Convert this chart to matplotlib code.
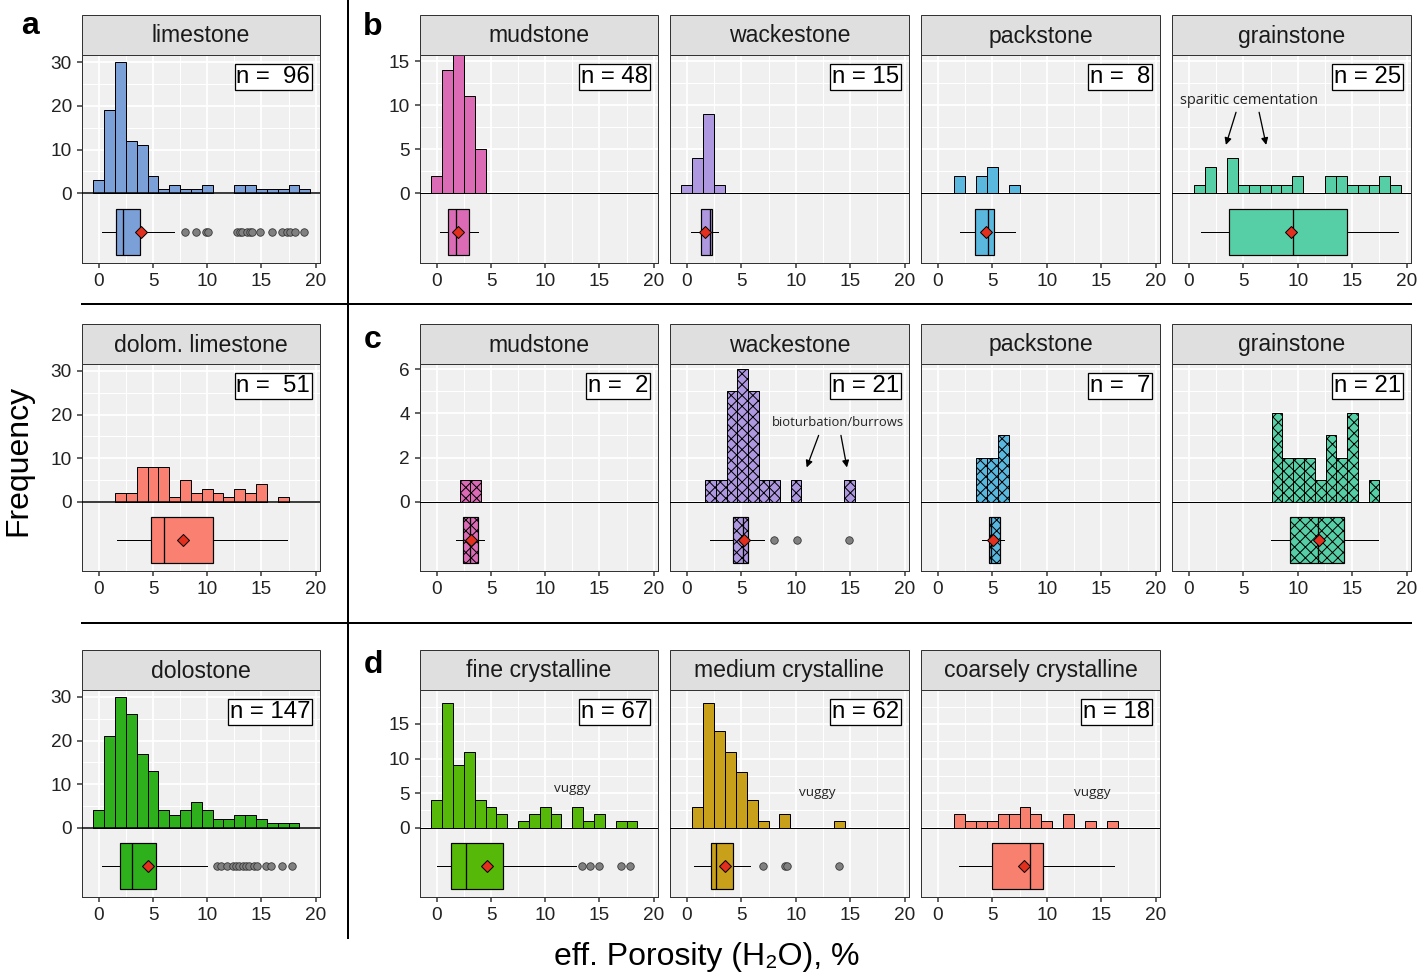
import matplotlib
matplotlib.use("Agg")
import matplotlib.pyplot as plt
from matplotlib.patches import Rectangle
from matplotlib.lines import Line2D

W, H, DPI = 1419, 978, 130


def pt(px):
    # pixel size -> points at this dpi
    return px * 72.0 / DPI


plt.rcParams['font.family'] = ['Liberation Sans', 'DejaVu Sans']
plt.rcParams['hatch.linewidth'] = pt(1.0)

# === data (counts per bin, bin start, bin width, box stats) ===
# box = [whisker low, q1, median, q3, whisker high]
lime_counts = [3, 19, 30, 12, 11, 4, 1, 2, 1, 1, 2, 0, 0, 2, 2, 1, 1, 1, 2, 1]
lime_box = [0.25, 1.56, 2.24, 3.77, 6.93]
lime_mean = 3.93
lime_out = [7.98, 8.96, 9.91, 10.06, 12.73, 12.98, 13.19, 13.65, 13.9, 14.11,
            14.91, 15.95, 16.93, 17.33, 17.64, 18.1, 18.93]

dlime_counts = [0, 0, 2, 2, 8, 8, 8, 1, 5, 2, 3, 2, 1, 3, 2, 4, 0, 1]
dlime_box = [1.72, 4.8, 6.0, 10.52, 17.38]
dlime_mean = 7.78

dolo_counts = [4, 21, 30, 26, 17, 13, 4, 3, 4, 6, 4, 2, 2, 3, 3, 2, 1, 1, 1]
dolo_box = [0.25, 1.94, 3.05, 5.26, 10.0]
dolo_mean = 4.58
dolo_out = [10.9, 11.3, 11.85, 12.4, 12.65, 12.92, 13.3, 13.6, 13.85, 14.3,
            14.6, 15.45, 15.85, 16.9, 17.85]

# b: limestone textures
b_mud_counts = [2, 14, 16, 11, 5]
b_mud_box = [0.34, 1.07, 1.81, 3.0, 3.83]
b_mud_mean = 2.0
b_wack_counts = [1, 4, 9, 1]
b_wack_box = [0.34, 1.26, 2.09, 2.3, 2.82]
b_wack_mean = 1.66
b_pack_counts = [0, 0, 2, 0, 2, 3, 0, 1]
b_pack_box = [2.02, 3.4, 4.57, 5.15, 7.09]
b_pack_mean = 4.42
b_grain_counts = [0, 1, 3, 0, 4, 1, 1, 1, 1, 1, 2, 0, 0, 2, 2, 1, 1, 1, 2, 1]
b_grain_box = [1.1, 3.71, 9.6, 14.48, 19.17]
b_grain_mean = 9.36

# c: dolomitic limestone textures
c_mud_counts = [1, 1]
c_mud_bins = (2.13, 0.97)
c_mud_box = [1.73, 2.41, 3.06, 3.8, 4.38]
c_mud_mean = 3.12
c_wack_counts = [1, 1, 5, 6, 5, 1, 1, 0, 1, 0, 0, 0, 0, 1]
c_wack_bins = (1.7, 0.98)
c_wack_box = [2.09, 4.22, 5.14, 5.63, 7.1]
c_wack_mean = 5.26
c_wack_out = [8.0, 10.09, 14.92]
c_pack_counts = [2, 2, 3]
c_pack_bins = (3.5, 1.0)
c_pack_box = [4.03, 4.71, 4.89, 5.72, 6.03]
c_pack_mean = 5.1
c_grain_counts = [4, 2, 2, 2, 1, 3, 2, 4, 0, 1]
c_grain_bins = (7.6, 0.99)
c_grain_box = [7.57, 9.32, 11.85, 14.22, 17.38]
c_grain_mean = 11.94

# d: dolostone crystal sizes
d_fine_counts = [4, 18, 9, 11, 4, 3, 2, 0, 1, 2, 3, 2, 0, 3, 1, 2, 0, 1, 1]
d_fine_box = [0.03, 1.27, 2.65, 6.08, 12.84]
d_fine_mean = 4.63
d_fine_out = [13.4, 14.14, 14.94, 17.0, 17.84]
d_med_counts = [0, 3, 18, 14, 11, 8, 4, 1, 0, 2, 0, 0, 0, 0, 1]
d_med_box = [0.7, 2.2, 2.7, 4.2, 5.8]
d_med_mean = 3.5
d_med_out = [7.0, 9.0, 9.2, 14.0]
d_coarse_counts = [0, 0, 2, 1, 1, 1, 2, 2, 3, 2, 1, 0, 2, 0, 1, 0, 1]
d_coarse_box = [1.9, 5.0, 8.5, 9.7, 16.2]
d_coarse_mean = 7.9

C_LIME = '#7B9FD7'
C_DLIME = '#FA8072'
C_DOLO = '#2DB01C'
C_MUD = '#DA6BB4'
C_WACK = '#AE98E0'
C_PACK = '#5AB7DE'
C_GRAIN = '#56CEA6'
C_FINE = '#56B808'
C_MED = '#C9A01A'
C_COARSE = '#F8806F'

HATCH = 'xxxx'

fig = plt.figure(figsize=(W / DPI, H / DPI), dpi=DPI)

LEFT = (82, 320)
COLS = [(420, 658), (670, 909), (921, 1160), (1172, 1411)]
ROWS = [(55, 263), (364, 571), (690, 897)]


def panel(xr, yr, title, nlab, counts, color, T, yt, ym, box, mean,
          out=(), bins=(-0.5, 1.0), hatch=None, showy=False, zlw=1.0):
    l, r = xr
    t, b = yr
    ax = fig.add_axes([l / W, 1 - b / H, (r - l) / W, (b - t) / H])
    ax.set_facecolor('#F0F0F0')
    ax.set_xlim(-1.55, 20.4)
    ax.set_ylim(-0.503 * T, T)
    ax.set_xticks([0, 5, 10, 15, 20])
    ax.set_xticks([2.5, 7.5, 12.5, 17.5], minor=True)
    ax.set_yticks(yt)
    ax.set_yticks(ym, minor=True)
    ax.grid(which='major', color='white', lw=pt(1.8))
    ax.grid(which='minor', color='white', lw=pt(1.0))
    ax.set_axisbelow(True)
    ax.tick_params(which='minor', length=0)
    ax.tick_params(which='major', length=pt(5), width=pt(1.5), color='#333333',
                   labelsize=pt(19), labelcolor='#222222', pad=pt(5))
    if not showy:
        ax.tick_params(axis='y', left=False, labelleft=False)
    for s in ax.spines.values():
        s.set_color('#333333')
        s.set_linewidth(pt(1))

    start, width = bins
    for i, c in enumerate(counts):
        if c > 0:
            ax.bar(start + i * width, c, width=width, align='edge', color=color,
                   edgecolor='black', lw=pt(1), hatch=hatch, zorder=3)
    ax.axhline(0, color='black', lw=pt(zlw), zorder=4)

    st = dict(whislo=box[0], q1=box[1], med=box[2], q3=box[3], whishi=box[4],
              mean=mean, fliers=list(out))
    ax.bxp([st], positions=[-0.279 * T], widths=[0.332 * T],
           orientation='horizontal', patch_artist=True, showmeans=True,
           showcaps=False, manage_ticks=False,
           boxprops=dict(facecolor=color, edgecolor='black', lw=pt(1.2), hatch=hatch),
           whiskerprops=dict(color='black', lw=pt(1)),
           medianprops=dict(color='black', lw=pt(1.3)),
           meanprops=dict(marker='D', markerfacecolor='#E3301E',
                          markeredgecolor='black', markersize=pt(8),
                          markeredgewidth=pt(1)),
           flierprops=dict(marker='o', markerfacecolor='#808080',
                           markeredgecolor='#333333', markersize=pt(7.5),
                           markeredgewidth=pt(0.8)))

    # strip on top
    fig.add_artist(Rectangle((l / W, 1 - t / H), (r - l) / W, 40 / H,
                             transform=fig.transFigure, facecolor='#DFDFDF',
                             edgecolor='#333333', lw=pt(1)))
    fig.text((l + r) / 2 / W, 1 - (t - 19) / H, title, ha='center', va='center',
             fontsize=pt(23), color='#1A1A1A')
    # n label
    fig.text((r - 10) / W, 1 - (t + 11) / H, nlab, ha='right', va='top',
             fontsize=pt(24), color='black',
             bbox=dict(boxstyle='square,pad=0.07', fc='white', ec='black', lw=pt(1.3)))
    return ax


# left column (a)
ya = [0, 10, 20, 30]
yam = [5, 15, 25]
panel(LEFT, ROWS[0], 'limestone', 'n =  96', lime_counts, C_LIME, 31.6, ya, yam,
      lime_box, lime_mean, lime_out, showy=True, zlw=1.5)
panel(LEFT, ROWS[1], 'dolom. limestone', 'n =  51', dlime_counts, C_DLIME, 31.6, ya, yam,
      dlime_box, dlime_mean, showy=True, zlw=1.5)
panel(LEFT, ROWS[2], 'dolostone', 'n = 147', dolo_counts, C_DOLO, 31.6, ya, yam,
      dolo_box, dolo_mean, dolo_out, showy=True, zlw=1.5)

# b row
yb = [0, 5, 10, 15]
ybm = [2.5, 7.5, 12.5]
panel(COLS[0], ROWS[0], 'mudstone', 'n = 48', b_mud_counts, C_MUD, 15.7, yb, ybm,
      b_mud_box, b_mud_mean, showy=True)
panel(COLS[1], ROWS[0], 'wackestone', 'n = 15', b_wack_counts, C_WACK, 15.7, yb, ybm,
      b_wack_box, b_wack_mean)
panel(COLS[2], ROWS[0], 'packstone', 'n =  8', b_pack_counts, C_PACK, 15.7, yb, ybm,
      b_pack_box, b_pack_mean)
axg = panel(COLS[3], ROWS[0], 'grainstone', 'n = 25', b_grain_counts, C_GRAIN, 15.7, yb, ybm,
            b_grain_box, b_grain_mean)
axg.text(5.5, 10.5, 'sparitic cementation', ha='center', va='center',
         fontsize=pt(14.5), family=['Open Sans', 'DejaVu Sans'], color='#222222')
for x0, x1 in [(4.33, 3.4), (6.45, 7.1)]:
    axg.annotate('', xy=(x1, 5.5), xytext=(x0, 9.2),
                 arrowprops=dict(arrowstyle='-|>', color='black', lw=pt(1.3),
                                 mutation_scale=pt(14), shrinkA=0, shrinkB=0))

# c row
yc = [0, 2, 4, 6]
ycm = [1, 3, 5]
panel(COLS[0], ROWS[1], 'mudstone', 'n =  2', c_mud_counts, C_MUD, 6.23, yc, ycm,
      c_mud_box, c_mud_mean, bins=c_mud_bins, hatch=HATCH, showy=True)
axw = panel(COLS[1], ROWS[1], 'wackestone', 'n = 21', c_wack_counts, C_WACK, 6.23, yc, ycm,
            c_wack_box, c_wack_mean, c_wack_out, bins=c_wack_bins, hatch=HATCH)
axw.text(13.9, 3.57, 'bioturbation/burrows', ha='center', va='center',
         fontsize=pt(13), family=['Open Sans', 'DejaVu Sans'], color='#222222')
for x0, x1 in [(12.1, 11.0), (14.15, 14.7)]:
    axw.annotate('', xy=(x1, 1.55), xytext=(x0, 3.0),
                 arrowprops=dict(arrowstyle='-|>', color='black', lw=pt(1.3),
                                 mutation_scale=pt(14), shrinkA=0, shrinkB=0))
panel(COLS[2], ROWS[1], 'packstone', 'n =  7', c_pack_counts, C_PACK, 6.23, yc, ycm,
      c_pack_box, c_pack_mean, bins=c_pack_bins, hatch=HATCH)
panel(COLS[3], ROWS[1], 'grainstone', 'n = 21', c_grain_counts, C_GRAIN, 6.23, yc, ycm,
      c_grain_box, c_grain_mean, bins=c_grain_bins, hatch=HATCH)

# d row
yd = [0, 5, 10, 15]
ydm = [2.5, 7.5, 12.5, 17.5]
axf = panel(COLS[0], ROWS[2], 'fine crystalline', 'n = 67', d_fine_counts, C_FINE, 19.9,
            yd, ydm, d_fine_box, d_fine_mean, d_fine_out, showy=True)
axm = panel(COLS[1], ROWS[2], 'medium crystalline', 'n = 62', d_med_counts, C_MED, 19.9,
            yd, ydm, d_med_box, d_med_mean, d_med_out)
axc = panel(COLS[2], ROWS[2], 'coarsely crystalline', 'n = 18', d_coarse_counts, C_COARSE,
            19.9, yd, ydm, d_coarse_box, d_coarse_mean)
for a, x, y in [(axf, 12.5, 5.7), (axm, 12.0, 5.1), (axc, 14.2, 5.1)]:
    a.text(x, y, 'vuggy', ha='center', va='center', fontsize=pt(13.5),
           family=['Open Sans', 'DejaVu Sans'], color='#222222')

# separators
fig.add_artist(Line2D([348 / W, 348 / W], [1, 1 - 938 / H], transform=fig.transFigure,
                      color='black', lw=pt(2)))
for yy in [304, 623]:
    fig.add_artist(Line2D([82 / W, 1411 / W], [1 - yy / H, 1 - yy / H],
                          transform=fig.transFigure, color='black', lw=pt(2)))

# panel letters
for lab, x, y in [('a', 30, 26), ('b', 373, 27), ('c', 373, 340), ('d', 373, 665)]:
    fig.text(x / W, 1 - y / H, lab, ha='center', va='center', fontsize=pt(32),
             fontweight='bold')

fig.text(18 / W, 1 - 460 / H, 'Frequency', rotation=90, ha='center', va='center',
         fontsize=pt(32))
fig.text(707 / W, 1 - 957 / H, 'eff. Porosity (H\u2082O), %', ha='center', va='center',
         fontsize=pt(32))

fig.savefig('out.png', dpi=DPI)
